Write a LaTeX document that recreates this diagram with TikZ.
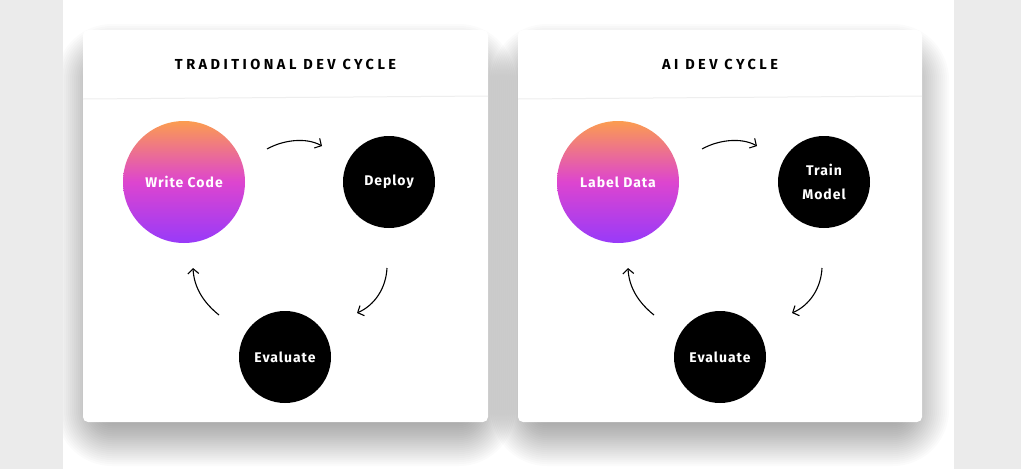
\documentclass[tikz,border=0pt]{standalone}
\usepackage{fontspec}
\setmainfont{Fira Sans}
\newfontfamily\titlefont[LetterSpace=24]{Fira Sans}
\newfontfamily\labelfont[LetterSpace=7]{Fira Sans}
\usetikzlibrary{arrows.meta}
\definecolor{bggray}{HTML}{EBEBEB}
\definecolor{divider}{HTML}{EEEEEE}
\definecolor{gorange}{HTML}{FB9C50}
\definecolor{gmagenta}{HTML}{DD45CF}
\definecolor{gpurple}{HTML}{983AF9}
\begin{document}
\begin{tikzpicture}[x=1pt,y=-1pt,
  card/.style={fill=white, rounded corners=5pt},
  shadowlayer/.style={fill=black, fill opacity=0.017},
  title/.style={font=\titlefont\bfseries\fontsize{14.5}{16}\selectfont, text=black},
  gradcircle/.style={circle, minimum size=122pt, inner sep=0pt, draw=none,
    top color=gorange, bottom color=gpurple, middle color=gmagenta,
    text=white, font=\labelfont\bfseries\fontsize{14}{24}\selectfont, align=center},
  blackcircle/.style={circle, minimum size=92pt, inner sep=0pt, fill=black,
    text=white, font=\labelfont\bfseries\fontsize{14}{24}\selectfont, align=center},
  flow/.style={line width=1.1pt, -{Straight Barb[length=5pt,width=11pt,line width=1.1pt]}}]
\useasboundingbox (0,0) rectangle (1021,469);
\fill[bggray] (0,0) rectangle (1021,469);
\fill[white] (63,0) rectangle (954,469);
\begin{scope}
  \clip (63,0) rectangle (954,469);
  \foreach \i in {1,...,28}{
    \fill[shadowlayer, rounded corners=\i*2pt] (112-\i*2,80-\i*2) rectangle (459+\i*2,410+\i*2);
    \fill[shadowlayer, rounded corners=\i*2pt] (547-\i*2,80-\i*2) rectangle (893+\i*2,410+\i*2);
  }
\end{scope}
\path[card] (83,30) rectangle (488,422);
\path[card] (518,30) rectangle (922,422);
\draw[divider, line width=1pt] (83,99) -- (488,96);
\draw[divider, line width=1pt] (518,99) -- (922,96);

\node[title] (t1) at (285.5,64) {TRADITIONAL DEV CYCLE};
\node[title] (t2) at (720,64) {AI DEV CYCLE};

% left cycle
\node[gradcircle] (wc) at (184,182) {Write Code};
\node[blackcircle] (dep) at (389,182) {Deploy};
\node[blackcircle] (ev1) at (285,357) {Evaluate};
\coordinate (a1s) at (267,149);
\coordinate (a1e) at (322,146);
\coordinate (a2s) at (387,268);
\coordinate (a2e) at (357,313);
\coordinate (a3s) at (219,315);
\coordinate (a3e) at (193,268);
\draw[flow] (a1s) .. controls (283,140) and (306,137) .. (a1e);
\draw[flow] (a2s) .. controls (386,288) and (375,305) .. (a2e);
\draw[flow] (a3s) .. controls (204,303) and (194,288) .. (a3e);

% right cycle
\node[gradcircle] (ld) at (618,182) {Label Data};
\node[blackcircle] (tm) at (824,182) {Train\\Model};
\node[blackcircle] (ev2) at (720,357) {Evaluate};
\coordinate (b1s) at (702,149);
\coordinate (b1e) at (757,146);
\coordinate (b2s) at (822,268);
\coordinate (b2e) at (792,313);
\coordinate (b3s) at (654,315);
\coordinate (b3e) at (628,268);
\draw[flow] (b1s) .. controls (718,140) and (741,137) .. (b1e);
\draw[flow] (b2s) .. controls (821,288) and (810,305) .. (b2e);
\draw[flow] (b3s) .. controls (639,303) and (629,288) .. (b3e);
\end{tikzpicture}
\end{document}
